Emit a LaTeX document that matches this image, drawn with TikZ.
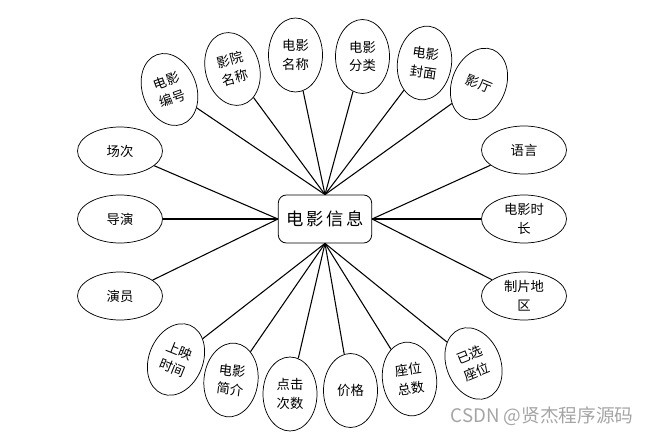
\documentclass[tikz,border=0pt]{standalone}
\usepackage{fontspec}
\newfontfamily\cjk{Noto Sans CJK SC}
\usetikzlibrary{shapes.geometric}
\definecolor{wmgray}{RGB}{165,165,165}
\tikzset{
  attr/.style={draw, ellipse, line width=0.55pt, align=center, inner sep=0pt,
    font=\cjk\fontsize{10}{14}\selectfont},
  sideattr/.style={attr, minimum width=63.75pt, minimum height=36pt},
  upattr/.style={attr, minimum width=40.5pt, minimum height=55.5pt},
  link/.style={line width=0.8pt},
}

\begin{document}
\begin{tikzpicture}[x=0.75pt, y=-0.75pt]
    \useasboundingbox (0,0) rectangle (653,435);
    % Thực thể chính
    \node[draw, rounded corners=6pt, line width=0.6pt, minimum width=70pt, minimum height=36pt,
      font=\cjk\fontsize{13}{15}\selectfont] (info) at (325,219) {电\,影\,信\,息};
    % Thuộc tính bên trái
    \node[sideattr] (changci) at (120,151) {场次};
    \node[sideattr] (daoyan) at (120,219) {导演};
    \node[sideattr] (yanyuan) at (120,296) {演员};
    % Thuộc tính bên phải
    \node[sideattr] (yuyan) at (524,150) {语言};
    \node[sideattr] (shichang) at (524,219) {电影时\\长};
    \node[sideattr] (diqu) at (524,296) {制片地\\区};
    % Thuộc tính phía trên
    \node[upattr, rotate=20] (bianhao) at (169.5,89.5) {电影\\编号};
    \node[upattr, rotate=15] (yuanming) at (232.5,69) {影院\\名称};
    \node[upattr] (mingcheng) at (295.5,55) {电影\\名称};
    \node[upattr] (fenlei) at (362.5,56.5) {电影\\分类};
    \node[upattr, rotate=-8] (fengmian) at (424.5,63) {电影\\封面};
    \node[upattr, rotate=-22] (yingting) at (479,84) {影厅};
    % Thuộc tính phía dưới
    \node[upattr, rotate=-22] (shijian) at (176,359.5) {上映\\时间};
    \node[upattr, rotate=-7] (jianjie) at (231,380) {电影\\简介};
    \node[upattr] (dianji) at (290,394) {点击\\次数};
    \node[upattr] (jiage) at (350.5,390.5) {价格};
    \node[upattr, rotate=8] (zongshu) at (409.5,379) {座位\\总数};
    \node[upattr, rotate=22] (yixuan) at (473.5,363.5) {已选\\座位};
    % Đường nối
    \draw[link] (changci) -- (info.west);
    \draw[link] (daoyan) -- (info.west);
    \draw[link] (yanyuan) -- (info.west);
    \draw[link] (yuyan) -- (info.east);
    \draw[link] (shichang) -- (info.east);
    \draw[link] (diqu) -- (info.east);
    \draw[link] (bianhao) -- (info.north);
    \draw[link] (yuanming) -- (info.north);
    \draw[link] (mingcheng) -- (info.north);
    \draw[link] (fenlei) -- (info.north);
    \draw[link] (fengmian) -- (info.north);
    \draw[link] (yingting) -- (info.north);
    \draw[link] (shijian) -- (info.south);
    \draw[link] (jianjie) -- (info.south);
    \draw[link] (dianji) -- (info.south);
    \draw[link] (jiage) -- (info.south);
    \draw[link] (zongshu) -- (info.south);
    \draw[link] (yixuan) -- (info.south);
    % Chữ mờ
    \node[wmgray, font=\cjk\fontsize{14}{16}\selectfont] (wm) at (542,416) {CSDN @贤杰程序源码};
\end{tikzpicture}
\end{document}
